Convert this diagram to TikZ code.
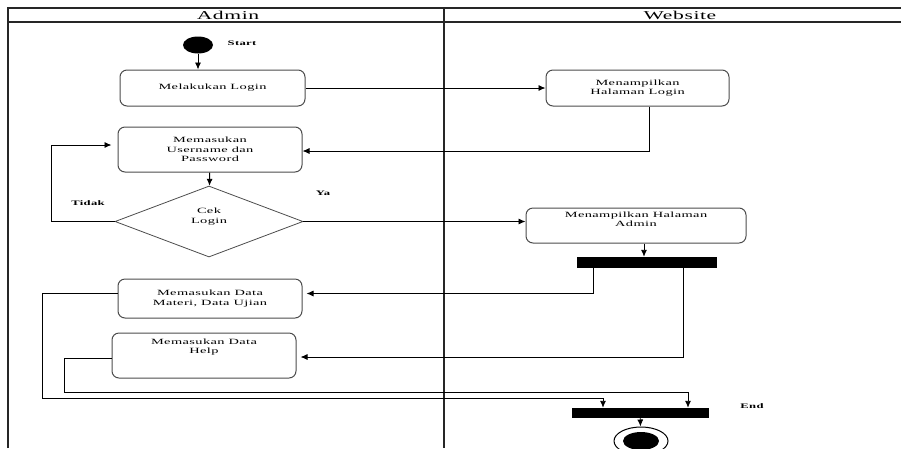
\documentclass[tikz,border=0pt]{standalone}
\usepackage{fontspec}
\setmainfont{Liberation Serif}[FakeStretch=1.8,LetterSpace=5]
\usetikzlibrary{arrows.meta,shapes.geometric}
\tikzset{
  lane/.style={draw=black!85, line width=1.2pt},
  activity/.style={draw=black!70, line width=1pt, rounded corners=7pt, align=center,
    font=\fontsize{8}{9.5}\selectfont, inner sep=1pt},
  decision/.style={draw=black!70, line width=0.8pt, diamond, align=center,
    font=\fontsize{8}{9.5}\selectfont, inner sep=0pt},
  bar/.style={fill=black, draw=black, inner sep=0pt},
  flow/.style={draw=black, line width=0.9pt, -{Latex[length=7pt,width=6pt]}},
  line/.style={draw=black, line width=0.9pt},
  lbl/.style={font=\fontsize{7}{8}\selectfont\bfseries, inner sep=0pt},
  head/.style={font=\fontsize{12}{13}\selectfont, inner sep=0pt},
}
\begin{document}
\begin{tikzpicture}[x=1pt,y=-1pt]
\useasboundingbox (0,0) rectangle (901,448);
% swimlanes
\draw[lane] (8,448) -- (8,8) -- (901,8);
\draw[lane] (8,22) -- (901,22);
\draw[lane] (444,8) -- (444,448);
\node[head] (hadm) at (228,15) {Admin};
\node[head] (hweb) at (680,15) {Website};
% nodes
\node[ellipse, fill=black, minimum width=30pt, minimum height=17pt, inner sep=0pt] (start) at (198,45) {};
\node[lbl] (startl) at (242,43) {Start};
\node[activity, minimum width=185pt, minimum height=36pt] (login) at (212.5,88) {Melakukan Login};
\node[activity, minimum width=183pt, minimum height=36pt] (hlogin) at (637.5,88) {Menampilkan\\Halaman Login};
\node[activity, minimum width=184pt, minimum height=45pt] (input) at (210,149.5) {Memasukan\\Username dan\\Password};
\node[decision, minimum width=188pt, minimum height=71pt] (cek) at (209,221.5) {Cek\\Login\\[2pt]};
\node[lbl] (tidak) at (88,203) {Tidak};
\node[lbl] (ya) at (323,193) {Ya};
\node[activity, minimum width=220pt, minimum height=35pt] (hadmin) at (636,225.5) {Menampilkan Halaman\\Admin\\[3pt]};
\node[bar, minimum width=139pt, minimum height=10pt] (fork1) at (646.5,262) {};
\node[activity, minimum width=184pt, minimum height=39pt] (materi) at (210,298.5) {Memasukan Data\\Materi,\enspace Data Ujian};
\node[activity, minimum width=184pt, minimum height=45pt] (help) at (204,355.5) {Memasukan Data\\Help\\[9pt]};
\node[bar, minimum width=136pt, minimum height=9pt] (fork2) at (640,412.5) {};
\node[ellipse, draw=black, line width=1pt, fill=white, minimum width=54pt, minimum height=28pt, inner sep=0pt] (final) at (641,441) {};
\node[ellipse, fill=black, minimum width=36pt, minimum height=18pt, inner sep=0pt] (finalin) at (final.center) {};
\node[lbl] (endl) at (752,406) {End};
% connectors
\draw[flow] (start) -- (start |- login.north);
\draw[flow] (login.east) -- (hlogin.west);
\draw[flow] ([xshift=12pt]hlogin.south) |- ([yshift=-1.5pt]input.east);
\draw[flow] (input) -- (cek);
\draw[flow] (cek.west) -- ++(-63,0) |- ([yshift=4.5pt,xshift=-6pt]input.west);
\draw[flow] (cek.east) -- (cek.east -| hadmin.west);
\draw[flow] ([xshift=8pt]hadmin.south) -- ([xshift=8pt]hadmin.south |- fork1.north);
\draw[flow] ([xshift=-53.5pt]fork1.south) |- ([yshift=5pt,xshift=4pt]materi.east);
\draw[flow] ([xshift=36.5pt]fork1.south) |- ([yshift=-1.5pt,xshift=4pt]help.east);
\draw[line] ([yshift=5pt]materi.west) -| (42,398) coordinate (m1);
\draw[flow] (m1) -| ([xshift=-37pt]fork2.north);
\draw[line] ([yshift=-2.5pt]help.west) -| (64,392) coordinate (h1);
\draw[flow] (h1) -| ([xshift=48pt]fork2.north);
\draw[flow] (fork2) -- (final);
\end{tikzpicture}
\end{document}
